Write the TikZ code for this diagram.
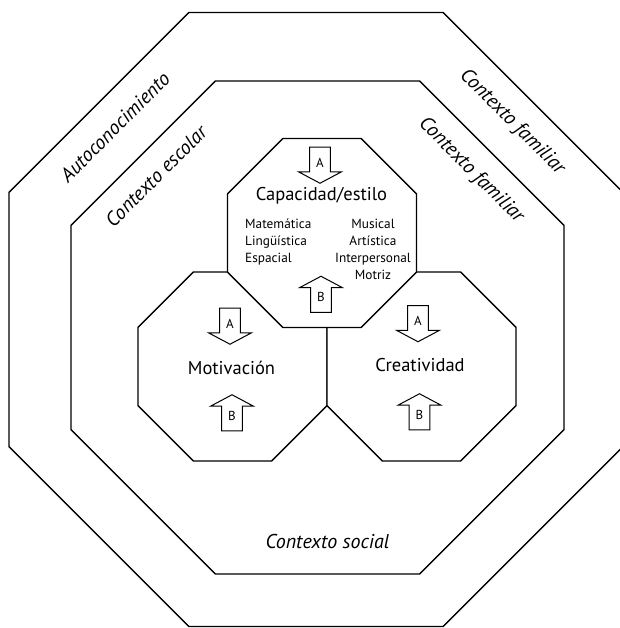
\documentclass[tikz,border=0pt]{standalone}
\usepackage{fontspec}
\setmainfont{PT Sans}
\usetikzlibrary{shapes.geometric,shapes.arrows}

\begin{document}
\begin{tikzpicture}[x=1pt, y=-1pt,
	octagon/.style={regular polygon, regular polygon sides=8, draw, line width=1.4pt, inner sep=0pt},
	arrbase/.style={single arrow, draw, fill=white, line width=1pt, inner sep=6pt, minimum height=36pt, single arrow head extend=11pt, single arrow tip angle=124, font=\fontsize{13}{13}\selectfont},
	arrdown/.style={arrbase, shape border rotate=270},
	arrup/.style={arrbase, shape border rotate=90},
	title/.style={font=\fontsize{18.5}{18.5}\selectfont},
	context/.style={font=\fontsize{20}{20}\selectfont\itshape},
	small/.style={font=\fontsize{13.3}{16.8}\selectfont, inner sep=0pt}]
	\useasboundingbox (0,0) rectangle (619,628);
	%rings
	\node[octagon, minimum size=664.6pt] (social) at (316,319.5) {};
	\node[octagon, minimum size=533.6pt] (escolar) at (317.5,327.5) {};
	%inner octagons
	\node[octagon, fill=white, minimum size=204.6pt] (mot) at (232.5,366.5) {};
	\node[octagon, fill=white, minimum size=204.6pt] (cre) at (421.5,366.5) {};
	\node[octagon, fill=white, minimum size=204.6pt] (cap) at (322,233) {};
	%ring labels
	\node[context, rotate=45] (auto) at (115,127) {Autoconocimiento};
	\node[context, rotate=45] (esc) at (156,176) {Contexto escolar};
	\node[context, rotate=-45] (fam1) at (512,122) {Contexto familiar};
	\node[context, rotate=-45] (fam2) at (471,170.5) {Contexto familiar};
	\node[context] (soc) at (327.5,541) {Contexto social};
	%titles
	\node[title] (captxt) at (321.5,195.5) {Capacidad/estilo};
	\node[title] (mottxt) at (231.5,368) {Motivación};
	\node[title] (cretxt) at (420,365) {Creatividad};
	\node[small, align=left, anchor=north west] (left) at (245,219) {Matemática\\Lingüística\\Espacial};
	\node[small, align=center, anchor=north] (right) at (373,219) {Musical\\Artística\\Interpersonal\\Motriz};
	%arrows
	\node[arrdown] (capA) at (320,162.5) {A};
	\node[arrup] (capB) at (321,297) {B};
	\node[arrdown] (motA) at (230,323.5) {A};
	\node[arrup] (motB) at (232,415.5) {B};
	\node[arrdown] (creA) at (418,321) {A};
	\node[arrup] (creB) at (419.5,414.5) {B};
\end{tikzpicture}
\end{document}
